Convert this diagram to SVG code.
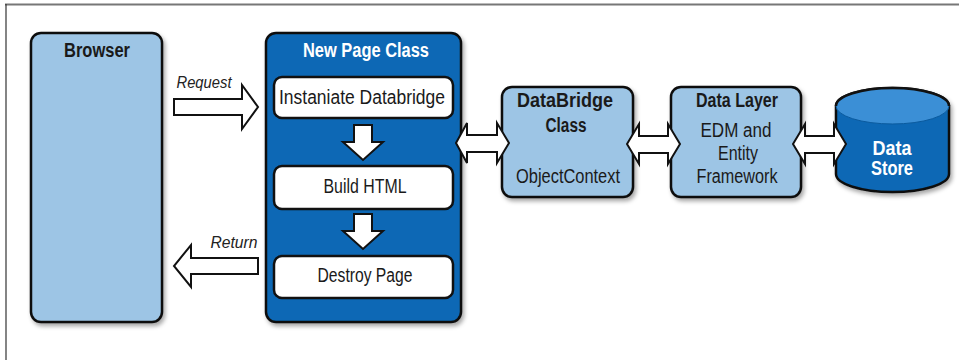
<svg xmlns="http://www.w3.org/2000/svg" width="959" height="360" viewBox="0 0 959 360">
<defs>
<filter id="sh" x="-10%" y="-10%" width="130%" height="130%">
<feDropShadow dx="2" dy="3" stdDeviation="2" flood-color="#000" flood-opacity="0.35"/>
</filter>
</defs>
<style>
.t{font-family:"Liberation Sans",Arial,sans-serif;text-anchor:middle;font-size:19.5px;fill:#1a1a1a}
.b{font-weight:bold}
.w{fill:#fff}
.lt{fill:#9dc5e5;stroke:#111;stroke-width:2.5}
.dk{fill:#0b68b5;stroke:#111;stroke-width:2.5}
.wb{fill:#fff;stroke:#111;stroke-width:2.5}
.ar{fill:#fff;stroke:#111;stroke-width:2;stroke-linejoin:miter}
.it{font-style:italic;font-size:17px;fill:#222}
</style>
<rect x="0" y="0" width="959" height="360" fill="#fff"/>
<line x1="5" y1="4.5" x2="959" y2="4.5" stroke="#777" stroke-width="2"/>
<line x1="6" y1="4" x2="6" y2="360" stroke="#333" stroke-width="1.2"/>

<g id="browser">
<rect class="lt" x="31" y="33" width="131" height="289" rx="10" filter="url(#sh)"/>
<text class="t b" x="97" y="57" textLength="66" lengthAdjust="spacingAndGlyphs">Browser</text>
</g>

<g id="newpage">
<rect class="dk" x="266" y="33" width="195" height="289" rx="10" filter="url(#sh)"/>
<text class="t b w" x="366" y="57" textLength="126" lengthAdjust="spacingAndGlyphs">New Page Class</text>
</g>

<g id="instantiate">
<rect class="wb" x="274" y="77" width="179" height="41" rx="8"/>
<text class="t" x="362" y="104" textLength="166" lengthAdjust="spacingAndGlyphs">Instaniate Databridge</text>
</g>

<g id="buildhtml">
<rect class="wb" x="274" y="166" width="179" height="43" rx="8"/>
<text class="t" x="365" y="193" textLength="83" lengthAdjust="spacingAndGlyphs">Build HTML</text>
</g>

<g id="destroy">
<rect class="wb" x="274" y="256" width="179" height="42" rx="8"/>
<text class="t" x="365" y="282" textLength="95" lengthAdjust="spacingAndGlyphs">Destroy Page</text>
</g>

<g id="databridge">
<rect class="lt" x="502" y="87" width="131" height="110" rx="10" filter="url(#sh)"/>
<text class="t b" x="565" y="107" textLength="96" lengthAdjust="spacingAndGlyphs">DataBridge</text>
<text class="t b" x="566" y="132" textLength="41" lengthAdjust="spacingAndGlyphs">Class</text>
<text class="t" x="568" y="183" textLength="104" lengthAdjust="spacingAndGlyphs">ObjectContext</text>
</g>

<g id="datalayer">
<rect class="lt" x="671" y="87" width="130" height="110" rx="10" filter="url(#sh)"/>
<text class="t b" x="737" y="107" textLength="82" lengthAdjust="spacingAndGlyphs">Data Layer</text>
<text class="t" x="736" y="137" textLength="71" lengthAdjust="spacingAndGlyphs">EDM and</text>
<text class="t" x="738" y="160" textLength="40" lengthAdjust="spacingAndGlyphs">Entity</text>
<text class="t" x="737" y="183" textLength="81" lengthAdjust="spacingAndGlyphs">Framework</text>
</g>

<g id="datastore">
<path d="M836,106 L836,174 A56.5,18 0 0 0 949,174 L949,106 A56.5,18 0 0 0 836,106 Z" fill="#0b68b5" stroke="#111" stroke-width="2.5" filter="url(#sh)"/>
<ellipse cx="892.5" cy="106" rx="56.5" ry="18" fill="#3b8fd6" stroke="none"/>
<path d="M836,106 A56.5,18 0 0 0 949,106" fill="none" stroke="#0a5a9e" stroke-width="1"/>
<path d="M836,106 A56.5,18 0 0 1 949,106" fill="none" stroke="#111" stroke-width="2.5"/>
<text class="t b w" x="892" y="155" textLength="39" lengthAdjust="spacingAndGlyphs">Data</text>
<text class="t b w" x="892" y="175" textLength="42" lengthAdjust="spacingAndGlyphs">Store</text>
</g>

<g id="connectors">
<path class="ar" d="M174,99 L242,99 L242,85 L258,107 L242,129 L242,115 L174,115 Z"/>
<text class="t it" x="204" y="88" textLength="55" lengthAdjust="spacingAndGlyphs">Request</text>
<path class="ar" d="M258,258 L191,258 L191,245 L174,266 L191,287 L191,274 L258,274 Z"/>
<text class="t it" x="234" y="248" textLength="47" lengthAdjust="spacingAndGlyphs">Return</text>
<path class="ar" d="M354,125 L372,125 L372,142 L383,142 L363,160 L343,142 L354,142 Z"/>
<path class="ar" d="M354,214 L372,214 L372,231 L383,231 L363,249 L343,231 L354,231 Z"/>
<path class="ar" d="M456,143 L467,123 L467,135 L497,135 L497,123 L509,143 L497,163 L497,152 L467,152 L467,163 Z"/>
<path class="ar" d="M627,144 L639,124 L639,136 L668,136 L668,124 L680,144 L668,164 L668,153 L639,153 L639,164 Z"/>
<path class="ar" d="M793,144 L805,124 L805,136 L834,136 L834,124 L846,144 L834,164 L834,153 L805,153 L805,164 Z"/>
</g>
</svg>
